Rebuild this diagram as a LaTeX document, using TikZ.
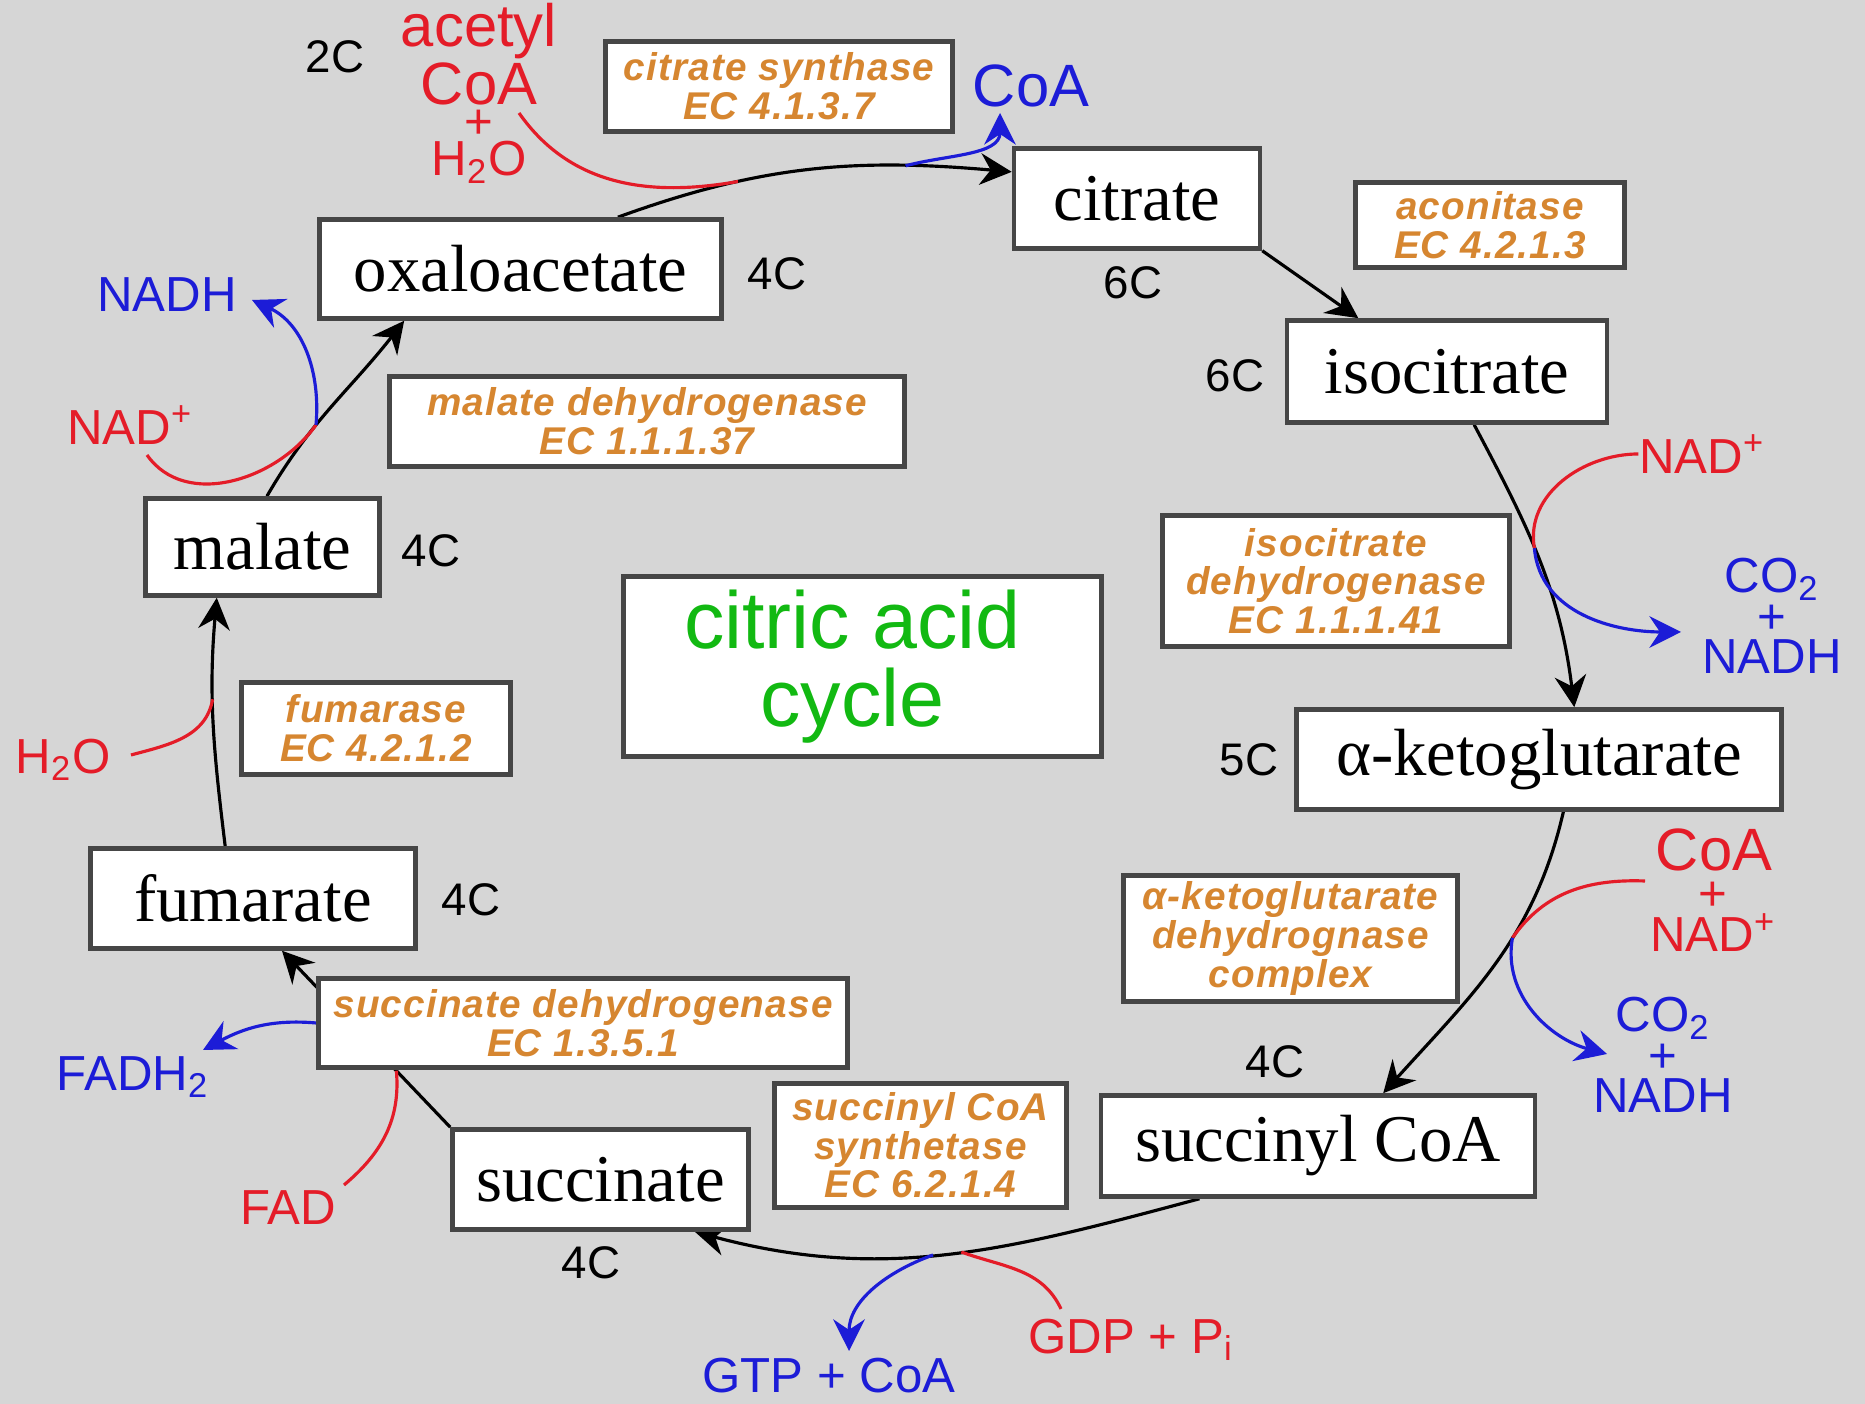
\documentclass[tikz,border=0pt]{standalone}
\usepackage{fontspec}
\setmainfont{Liberation Serif}
\newfontfamily\labelfont{Liberation Sans}
\newfontfamily\enzymefont[LetterSpace=3]{Liberation Sans}
\usepackage{tikz}
\usetikzlibrary{arrows.meta,backgrounds}

\definecolor{bggray}{RGB}{214,214,214}
\definecolor{boxline}{RGB}{70,70,70}
\definecolor{enzorange}{RGB}{214,134,48}
\definecolor{inred}{RGB}{228,28,40}
\definecolor{outblue}{RGB}{28,28,215}
\definecolor{titlegreen}{RGB}{18,185,18}

\begin{document}
\begin{tikzpicture}[
  mol/.style={draw=boxline, fill=white, line width=1.3pt, inner sep=0pt,
    font=\fontsize{19}{21}\selectfont},
  enzyme/.style={draw=boxline, fill=white, line width=1.3pt, inner sep=0pt, align=center,
    text=enzorange, font=\enzymefont\bfseries\itshape\fontsize{11}{11}\selectfont},
  carbons/.style={font=\labelfont\fontsize{13}{13}\selectfont},
  taken/.style={text=inred, align=center, inner sep=0pt, font=\labelfont\fontsize{14}{11.5}\selectfont},
  given/.style={text=outblue, align=center, inner sep=0pt, font=\labelfont\fontsize{14}{11.5}\selectfont},
  big/.style={font=\labelfont\fontsize{17}{15.3}\selectfont},
  flow/.style={line width=0.9pt, -{Stealth[length=9pt,width=9pt,inset=3pt]}},
  feed/.style={inred, line width=0.9pt},
  release/.style={outblue, line width=0.9pt, -{Stealth[length=9pt,width=9pt,inset=3pt]}}]
  \useasboundingbox (0,0) rectangle (18.65,14.04);

  \node[mol, minimum width=2.46cm, minimum height=1.00cm] (citrate) at (11.37,12.055) {citrate};
  \node[mol, minimum width=3.20cm, minimum height=1.02cm] (isocitrate) at (14.47,10.325) {isocitrate};
  \node[mol, minimum width=4.85cm, minimum height=1.00cm] (akg) at (15.39,6.445) {α-ketoglutarate};
  \node[mol, minimum width=4.34cm, minimum height=1.01cm] (succoa) at (13.18,2.58) {succinyl CoA};
  \node[mol, minimum width=2.96cm, minimum height=1.00cm] (succinate) at (6.005,2.245) {succinate};
  \node[mol, minimum width=3.25cm, minimum height=1.00cm] (fumarate) at (2.53,5.055) {fumarate};
  \node[mol, minimum width=2.34cm, minimum height=0.97cm] (malate) at (2.625,8.57) {malate};
  \node[mol, minimum width=4.02cm, minimum height=0.99cm] (oxalo) at (5.205,11.35) {oxaloacetate};

  \node[draw=boxline, fill=white, line width=1.3pt, minimum width=4.78cm, minimum height=1.80cm,
    align=center, text=titlegreen, font=\labelfont\fontsize{23}{22}\selectfont] (cycle) at (8.625,7.375) {citric acid\hspace*{0.2cm}\\cycle\hspace*{0.2cm}};

  \node[enzyme, minimum width=3.47cm, minimum height=0.90cm] (citsyn) at (7.79,13.175) {citrate synthase\\EC 4.1.3.7};
  \node[enzyme, minimum width=2.69cm, minimum height=0.85cm] (aconit) at (14.90,11.79) {aconitase\\EC 4.2.1.3};
  \node[enzyme, minimum width=3.47cm, minimum height=1.31cm] (idh) at (13.36,8.23) {isocitrate\\dehydrogenase\\EC 1.1.1.41};
  \node[enzyme, minimum width=3.34cm, minimum height=1.26cm] (kgdh) at (12.905,4.655) {α-ketoglutarate\\dehydrognase\\complex};
  \node[enzyme, minimum width=2.92cm, minimum height=1.24cm] (scs) at (9.205,2.585) {succinyl CoA\\synthetase\\EC 6.2.1.4};
  \node[enzyme, minimum width=5.29cm, minimum height=0.89cm] (sdh) at (5.83,3.81) {succinate dehydrogenase\\EC 1.3.5.1};
  \node[enzyme, minimum width=2.69cm, minimum height=0.92cm] (fumase) at (3.76,6.755) {fumarase\\EC 4.2.1.2};
  \node[enzyme, minimum width=5.15cm, minimum height=0.90cm] (mdh) at (6.47,9.825) {malate dehydrogenase\\EC 1.1.1.37};

  \node[carbons] (c-acetyl) at (3.35,13.47) {2C};
  \node[carbons] (c-oxalo) at (7.77,11.30) {4C};
  \node[carbons] (c-citrate) at (11.33,11.21) {6C};
  \node[carbons] (c-iso) at (12.35,10.28) {6C};
  \node[carbons] (c-akg) at (12.49,6.44) {5C};
  \node[carbons] (c-succoa) at (12.75,3.42) {4C};
  \node[carbons] (c-succ) at (5.91,1.41) {4C};
  \node[carbons] (c-fum) at (4.71,5.04) {4C};
  \node[carbons] (c-malate) at (4.31,8.53) {4C};

  \node[taken, big] (acetyl) at (4.79,13.50) {acetyl\\CoA};
  \node[taken, font=\labelfont\fontsize{14}{10.5}\selectfont] (water1) at (4.79,12.57) {+\\H\textsubscript{2}O};
  \node[given, big] (coa1) at (10.31,13.18) {CoA};
  \node[taken] (nad2) at (17.02,9.50) {NAD\textsuperscript{+}};
  \node[given] (co2a) at (17.72,7.88) {CO\textsubscript{2}\\+\\NADH};
  \node[taken, big] (coa2) at (17.14,5.54) {CoA};
  \node[taken] (nad3) at (17.13,4.87) {+\\NAD\textsuperscript{+}};
  \node[given] (co2b) at (16.63,3.49) {CO\textsubscript{2}\\+\\NADH};
  \node[taken] (gdp) at (11.31,0.64) {GDP + P\textsubscript{i}};
  \node[given] (gtp) at (8.29,0.28) {GTP + CoA};
  \node[taken] (fad) at (2.88,1.96) {FAD};
  \node[given] (fadh) at (1.33,3.27) {FADH\textsubscript{2}};
  \node[taken] (water2) at (0.63,6.44) {H\textsubscript{2}O};
  \node[taken] (nad1) at (1.30,9.79) {NAD\textsuperscript{+}};
  \node[given] (nadh1) at (1.67,11.09) {NADH};

  \coordinate (acetyl-in) at (5.19,12.91);
  \coordinate (coa1-out) at (10.00,12.91);
  \coordinate (co2a-out) at (16.81,7.72);
  \coordinate (coa2-in) at (16.45,5.23);
  \coordinate (co2b-out) at (16.07,3.50);
  \coordinate (gdp-in) at (10.61,0.95);
  \coordinate (gtp-out) at (8.49,0.53);
  \coordinate (fad-in) at (3.44,2.19);
  \coordinate (fadh-out) at (2.03,3.54);
  \coordinate (water2-in) at (1.31,6.49);
  \coordinate (nad1-in) at (1.47,9.49);
  \coordinate (nadh1-out) at (2.52,11.04);

  \begin{scope}[on background layer]
    \fill[bggray] (0,0) rectangle (18.65,14.04);
    \draw[flow] (oxalo.28) to[out=20,in=175] coordinate[pos=.3] (j-cs1) coordinate[pos=.75] (j-cs2) (citrate.168);
    \draw[feed] (acetyl-in) to[out=-55,in=190] (j-cs1);
    \draw[release] (j-cs2) to[out=15,in=-90] (coa1-out);
    \draw[flow] (citrate.south east) -- (isocitrate.149);
    \draw[flow] (isocitrate.-63) to[out=-62,in=97] coordinate[pos=.45] (j-idh) (akg.56);
    \draw[feed] (nad2.west) to[out=180,in=100] (j-idh);
    \draw[release] (j-idh) to[out=-85,in=180] (co2a-out);
    \draw[flow] (akg.-65) to[out=-103,in=48] coordinate[pos=.4] (j-kgdh) (succoa.39);
    \draw[feed] (coa2-in) to[out=178,in=55] (j-kgdh);
    \draw[release] (j-kgdh) to[out=-100,in=165] (co2b-out);
    \draw[flow] (succoa.-156) to[out=-165,in=-15] coordinate[pos=.47] (j-scs1) coordinate[pos=.53] (j-scs2) (succinate.-29);
    \draw[feed] (gdp-in) to[out=115,in=-20] (j-scs1);
    \draw[release] (j-scs2) to[out=-160,in=90] (gtp-out);
    \draw[flow] (succinate.north west) -- coordinate[pos=.32] (j-sdh) (fumarate.-61);
    \draw[release] (sdh.west) to[out=175,in=28] (fadh-out);
    \draw[feed] (fad-in) to[out=40,in=-85] (j-sdh);
    \draw[flow] (fumarate.118) to[out=97,in=-95] coordinate[pos=.6] (j-fum) (malate.-132);
    \draw[feed] (water2-in) to[out=15,in=-100] (j-fum);
    \draw[flow] (malate.85) to[out=60,in=-128] coordinate[pos=.38] (j-mdh) (oxalo.-156);
    \draw[feed] (nad1-in) to[out=-55,in=-125] (j-mdh);
    \draw[release] (j-mdh) to[out=85,in=-25] (nadh1-out);
  \end{scope}
\end{tikzpicture}
\end{document}
